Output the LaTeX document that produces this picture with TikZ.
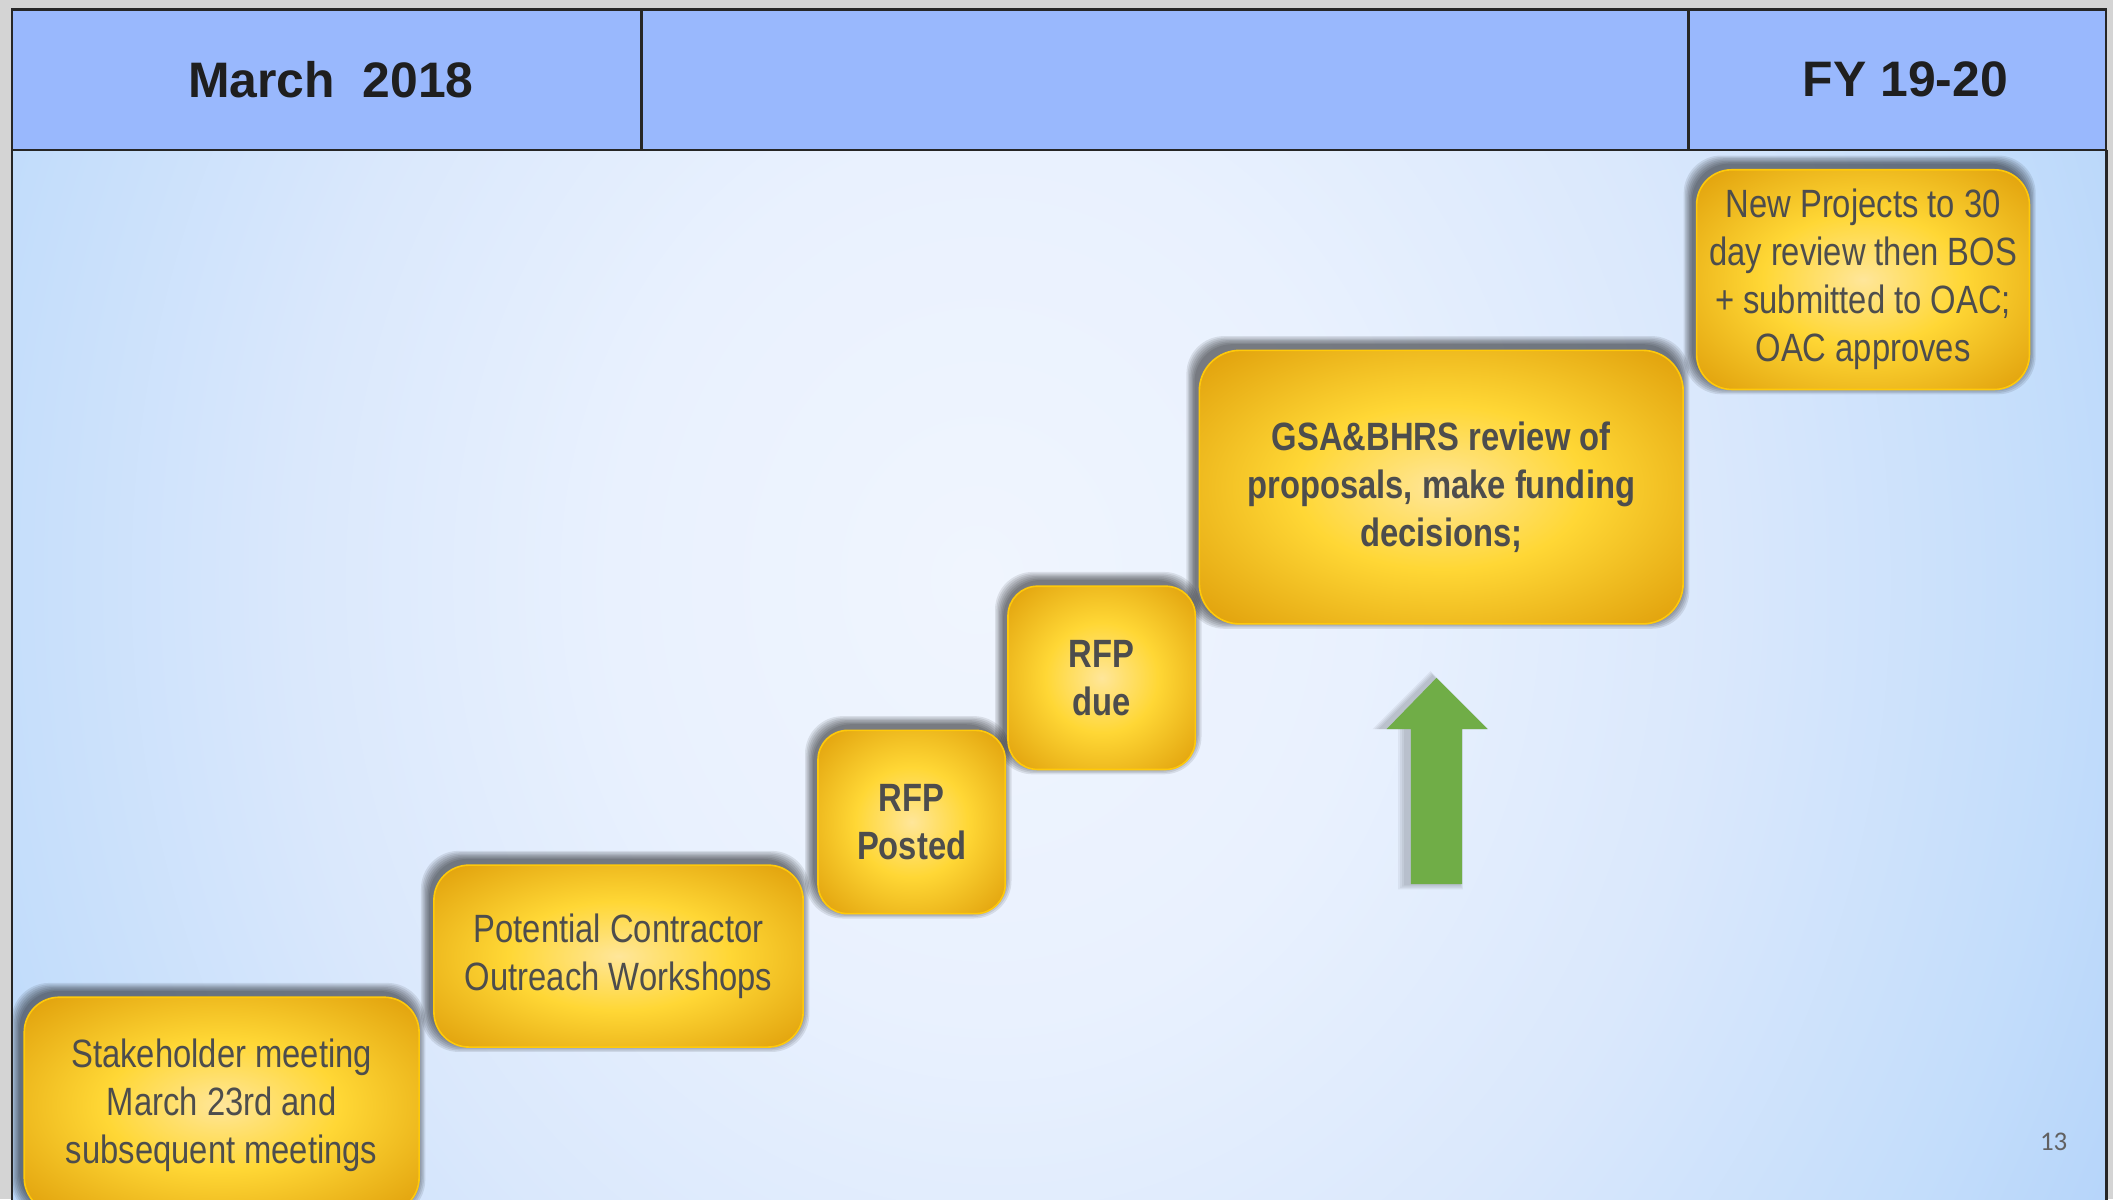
\documentclass[tikz,border=0pt]{standalone}
\usepackage{fontspec}
\setmainfont{Liberation Sans}
\newfontfamily\narrowfont[FakeStretch=0.83]{Liberation Sans}
\newfontfamily\numfont{Carlito}
\definecolor{hdrblue}{HTML}{99B8FD}
\definecolor{boxtext}{HTML}{4D4D4D}
\definecolor{goldc}{HTML}{FFE69A}
\definecolor{goldl}{HTML}{FFE070}
\definecolor{goldm}{HTML}{FFD735}
\definecolor{golde}{HTML}{EFBB20}
\definecolor{goldd}{HTML}{E3A50F}
\definecolor{golddd}{HTML}{DC9C0A}
\definecolor{goldline}{HTML}{FFC90A}
\definecolor{arrowgreen}{HTML}{70AD47}
\definecolor{bga}{HTML}{F0F5FE}
\definecolor{bgb}{HTML}{E9F1FE}
\definecolor{bgc}{HTML}{DAE8FC}
\definecolor{bgd}{HTML}{C3DDFB}
\definecolor{bge}{HTML}{A8CCF8}
\definecolor{outergray}{HTML}{D4D4D4}
\pgfdeclareradialshading{boxshade}{\pgfpoint{0bp}{0bp}}{color(0bp)=(goldc); color(6bp)=(goldl); color(15bp)=(goldm); color(25bp)=(golde); color(33bp)=(goldd); color(45bp)=(golddd); color(50bp)=(golddd)}
\pgfdeclareradialshading{bgshade}{\pgfpoint{-2bp}{0bp}}{color(0bp)=(bga); color(9bp)=(bgb); color(17bp)=(bgc); color(25bp)=(bgd); color(33bp)=(bge); color(50bp)=(bge)}
\pgfdeclarelayer{bg}
\pgfsetlayers{bg,main}
\tikzset{
  gbox/.style={shade, shading=boxshade, draw=goldline, line width=1.2bp, rounded corners=26bp,
    text=boxtext, align=center, inner sep=0pt,
    font=\narrowfont\fontsize{29.3bp}{35.7bp}\selectfont},
  gboxbold/.style={gbox, font=\narrowfont\bfseries\fontsize{29.3bp}{35.7bp}\selectfont},
  hdr/.style={draw=black!85, line width=1.6bp, fill=hdrblue, inner sep=0pt,
    minimum height=104bp, text=black!88,
    font=\bfseries\fontsize{37bp}{40bp}\selectfont},
  shadowlayer/.style={fill=black, opacity=0.09, rounded corners=28bp},
  pagenum/.style={text=black!62, font=\numfont\fontsize{20bp}{24bp}\selectfont}
}
\begin{document}
\begin{tikzpicture}[x=1bp, y=-1bp]
\useasboundingbox (0,0) rectangle (1568,890);
\begin{pgfonlayer}{bg}
  \fill[outergray] (0,0) rectangle (1568,890);
  \begin{scope}
    \clip (9,111) rectangle (1563,900);
    \shade[shading=bgshade] (9,-470) rectangle (1563,1330);
  \end{scope}
\end{pgfonlayer}

% header
\node[hdr, minimum width=467bp] (h1) at (242.5,59) {\hspace*{6bp}March\ \ 2018};
\node[hdr, minimum width=777bp] (h2) at (864.5,59) {};
\node[hdr, minimum width=310bp] (h3) at (1408,59) {\hspace*{12bp}FY 19-20};
\draw[black!85, line width=2bp] (9,111) -- (9,900);
\draw[black!85, line width=2.4bp] (1563,111) -- (1563,900);

% boxes
\node[gbox, minimum width=293bp, minimum height=160bp] (stake) at (164.5,820)
  {Stakeholder meeting\\March 23rd and\\subsequent meetings};
\node[gbox, minimum width=274bp, minimum height=135bp] (work) at (459,709.5)
  {Potential Contractor\\Outreach Workshops};
\node[gboxbold, rounded corners=22bp, minimum width=139bp, minimum height=136bp] (posted) at (676.5,610)
  {RFP\\Posted};
\node[gboxbold, rounded corners=22bp, minimum width=139bp, minimum height=136bp] (due) at (817.5,503)
  {RFP\\due};
\node[gboxbold, rounded corners=30bp, minimum width=359bp, minimum height=203bp] (review) at (1069.5,361.5)
  {GSA\&BHRS review of\\proposals, make funding\\decisions;};
\node[gbox, minimum width=247bp, minimum height=163bp] (newp) at (1382.5,207.5)
  {New Projects to 30\\day review then BOS\\+ submitted to OAC;\\OAC approves};

% blurred shadows
\begin{pgfonlayer}{bg}
\foreach \n in {stake,work,posted,due,review,newp}{
  \foreach \i in {0,...,6}{
    \pgfmathsetmacro\lx{-3-\i}
    \pgfmathsetmacro\ty{4+\i}
    \pgfmathsetmacro\rx{-2+\i}
    \pgfmathsetmacro\by{3-\i}
    \fill[shadowlayer] ([xshift=\lx bp, yshift=\ty bp]\n.north west) rectangle ([xshift=\rx bp, yshift=\by bp]\n.south east);
  }
}
\foreach \i in {0,...,3}{
  \fill[black, opacity=0.05, shift={(-3-\i*0.5,0)}] (1066,501-\i) -- (1106+\i,541) -- (1087+\i,541) -- (1087+\i,657+\i) -- (1045-\i,657+\i) -- (1045-\i,541) -- (1026-\i,541) -- cycle;
}
\end{pgfonlayer}

% green arrow
\fill[arrowgreen] (1066,503) -- (1104,541) -- (1085,541) -- (1085,656) -- (1047,656) -- (1047,541) -- (1029,541) -- cycle;

% page number
\node[pagenum] (pg) at (1524,847) {13};
\end{tikzpicture}
\end{document}
